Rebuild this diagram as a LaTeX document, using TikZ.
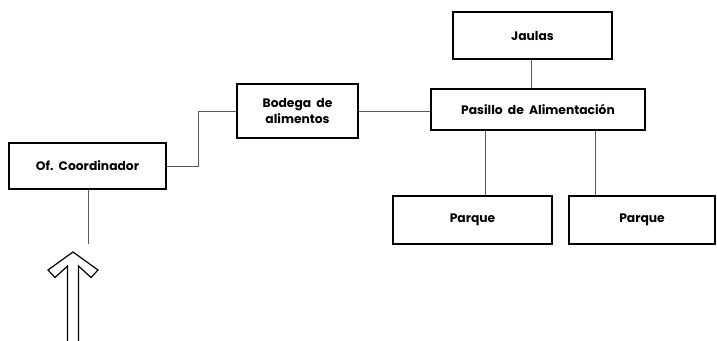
\documentclass[tikz,border=0pt]{standalone}
\usepackage{fontspec}
\setmainfont{Poppins}
\tikzset{box/.style = {shape = rectangle, draw, line width = 1.6pt, inner sep = 0pt, font = \fontsize{12.3}{16.5}\selectfont\bfseries, align = center}}
\tikzset{edge/.style = {draw = black!65, line width = 0.8pt}}

\begin{document}
\begin{tikzpicture}[x = 1pt, y = -1pt]
			\useasboundingbox (0, 0) rectangle (717, 340);

			\node[box, minimum width = 157pt, minimum height = 46pt] (coord) at (87.5, 166) {Of.\ \ Coordinador};
			\node[box, minimum width = 121pt, minimum height = 54pt] (bodega) at (297.5, 111) {Bodega\ \ de\\alimentos};
			\node[box, minimum width = 214pt, minimum height = 41pt] (pasillo) at (538, 109.5) {Pasillo\ \ de\ \ Alimentación};
			\node[box, minimum width = 159pt, minimum height = 47pt] (jaulas) at (532.5, 35.5) {Jaulas};
			\node[box, minimum width = 159pt, minimum height = 48pt] (parque1) at (472.5, 220) {Parque};
			\node[box, minimum width = 146pt, minimum height = 48pt] (parque2) at (642, 220) {Parque};
			\coordinate (entrada) at (88, 244);

			\draw[edge] (coord.east) -- ++(32, 0) |- (bodega.west);
			\draw[edge] (bodega.east) -- (bodega.east -| pasillo.west);
			\draw[edge] (jaulas.south -| 531, 0) -- (pasillo.north -| 531, 0);
			\draw[edge] (pasillo.south -| 485, 0) -- (parque1.north -| 485, 0);
			\draw[edge] (pasillo.south -| 595, 0) -- (parque2.north -| 595, 0);
			\draw[edge] (coord.south -| entrada) -- (entrada);

			% flecha de acceso
			\draw[line width = 1.2pt, line join = miter] (67.5, 341) -- (67.5, 266) -- (55, 277.5) -- (48, 270) -- (73, 252) -- (98, 270) -- (91, 277.5) -- (78.5, 266) -- (78.5, 341);
		\end{tikzpicture}
\end{document}
